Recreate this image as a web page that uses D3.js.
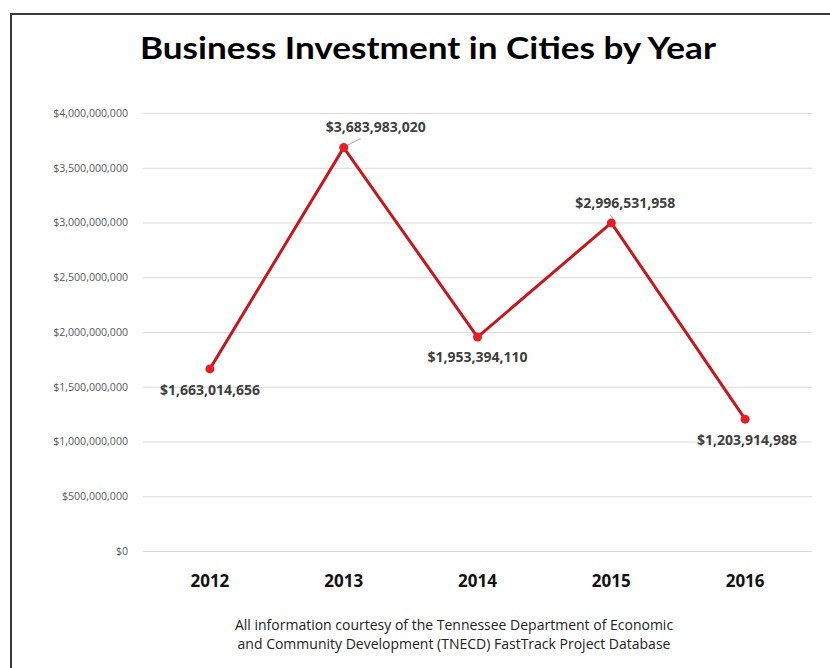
<!DOCTYPE html>
<html>
<head>
<meta charset="utf-8">
<script src="https://cdn.jsdelivr.net/npm/d3@7"></script>
<style>
  html, body { margin: 0; padding: 0; background: #fff; }
  svg { display: block; }
</style>
</head>
<body>
<svg id="chart" width="830" height="668"></svg>
<script>
// ---- data ----
const years = ["2012", "2013", "2014", "2015", "2016"];
const investment = [1663014656, 3683983020, 1953394110, 2996531958, 1203914988];
const yTickValues = [0, 500000000, 1000000000, 1500000000, 2000000000, 2500000000, 3000000000, 3500000000, 4000000000];
const titleText = "Business Investment in Cities by Year";
const footerLines = [
  "All information courtesy of the Tennessee Department of Economic",
  "and Community Development (TNECD) FastTrack Project Database"
];

// ---- layout / style (not data) ----
const W = 830, H = 668;
const plot = { left: 143, right: 812, top: 113, bottom: 551 };
// label placement relative to each point
const labelLayout = [
  { dx: 0, dy: 26, leader: false },
  { dx: 32, dy: -16, leader: true },
  { dx: 0, dy: 25, leader: false },
  { dx: 14, dy: -15, leader: true },
  { dx: 2, dy: 26, leader: false }
];

const svg = d3.select("#chart");
svg.append("rect").attr("x", 0).attr("y", 0).attr("width", W).attr("height", H).attr("fill", "#fff");

// frame (left and top edges visible)
svg.append("path")
  .attr("d", `M11,${H + 5} L11,14 L${W + 5},14`)
  .attr("fill", "none").attr("stroke", "#3a3a3a").attr("stroke-width", 2);

const x = d3.scaleBand().domain(years).range([plot.left, plot.right]);
const y = d3.scaleLinear().domain([0, 4000000000]).range([plot.bottom, plot.top]);

// title
svg.append("text")
  .attr("x", 428).attr("y", 59)
  .attr("text-anchor", "middle")
  .attr("font-family", "Lato, 'Open Sans', sans-serif")
  .attr("font-weight", 700)
  .attr("font-size", 31)
  .attr("fill", "#000")
  .attr("textLength", 576).attr("lengthAdjust", "spacingAndGlyphs")
  .text(titleText);

// y axis with gridlines
const fmt = v => "$" + d3.format(",")(v);
const yAxis = d3.axisLeft(y).tickValues(yTickValues).tickFormat(fmt)
  .tickSize(-(plot.right - plot.left)).tickPadding(15);
const gy = svg.append("g").attr("transform", `translate(${plot.left},0)`).call(yAxis);
gy.select(".domain").remove();
gy.selectAll(".tick line").attr("stroke", "#d9d9d9").attr("stroke-width", 1);
gy.selectAll(".tick text")
  .attr("font-family", "'Open Sans', sans-serif")
  .attr("font-size", 10.6)
  .attr("fill", "#595959");

// x axis labels
const xAxis = d3.axisBottom(x).tickSize(0).tickPadding(24);
const gx = svg.append("g").attr("transform", `translate(0,${plot.bottom})`).call(xAxis);
gx.select(".domain").remove();
gx.selectAll(".tick text")
  .attr("font-family", "'Open Sans', sans-serif")
  .attr("font-weight", 700)
  .attr("font-size", 17)
  .attr("fill", "#111");

// line
const pts = years.map((yr, i) => ({ year: yr, value: investment[i], cx: x(yr) + x.bandwidth() / 2, cy: y(investment[i]), lay: labelLayout[i] }));
const line = d3.line().x(d => d.cx).y(d => d.cy);
svg.append("path").datum(pts)
  .attr("d", line)
  .attr("fill", "none")
  .attr("stroke", "#c9161d")
  .attr("stroke-width", 3)
  .attr("stroke-linejoin", "round");

// leader lines
svg.selectAll("line.leader").data(pts.filter(d => d.lay.leader)).enter().append("line")
  .attr("class", "leader")
  .attr("x1", d => d.cx + 3).attr("y1", d => d.cy - 2)
  .attr("x2", d => d.cx + d.lay.dx - 15).attr("y2", d => d.cy + d.lay.dy + 7)
  .attr("stroke", "#a6a6a6").attr("stroke-width", 1);

// markers
svg.selectAll("circle.pt").data(pts).enter().append("circle")
  .attr("class", "pt")
  .attr("cx", d => d.cx).attr("cy", d => d.cy).attr("r", 4.5)
  .attr("fill", "#ec1c24");

// data labels
svg.selectAll("text.dl").data(pts).enter().append("text")
  .attr("class", "dl")
  .attr("x", d => d.cx + d.lay.dx).attr("y", d => d.cy + d.lay.dy)
  .attr("text-anchor", "middle")
  .attr("font-family", "'Open Sans', sans-serif")
  .attr("font-weight", 700)
  .attr("font-size", 14)
  .attr("fill", "#404040")
  .text(d => fmt(d.value));

// footer
svg.selectAll("text.foot").data(footerLines).enter().append("text")
  .attr("class", "foot")
  .attr("x", 454).attr("y", (d, i) => 630 + i * 19)
  .attr("text-anchor", "middle")
  .attr("font-family", "'Open Sans', sans-serif")
  .attr("font-size", 14)
  .attr("fill", "#222")
  .text(d => d);
</script>
</body>
</html>
